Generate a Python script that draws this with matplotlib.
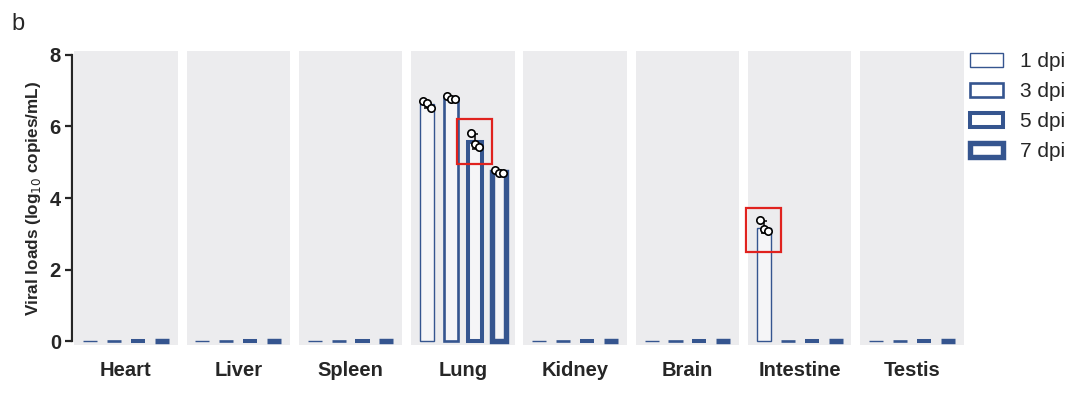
import matplotlib
matplotlib.use("Agg")
import matplotlib.pyplot as plt
from matplotlib.patches import Patch, Rectangle
import numpy as np

plt.rcParams['font.family'] = ['Liberation Sans', 'DejaVu Sans']

# ---- data ----
organs = ["Heart", "Liver", "Spleen", "Lung", "Kidney", "Brain", "Intestine", "Testis"]
series = ["1 dpi", "3 dpi", "5 dpi", "7 dpi"]
# mean viral loads (log10 copies/mL); 0 = not detected
dpi1 = [0, 0, 0, 6.63, 0, 0, 3.17, 0]
dpi3 = [0, 0, 0, 6.80, 0, 0, 0, 0]
dpi5 = [0, 0, 0, 5.58, 0, 0, 0, 0]
dpi7 = [0, 0, 0, 4.73, 0, 0, 0, 0]
# individual replicate points
lung_1dpi_pts = [6.71, 6.65, 6.52]
lung_3dpi_pts = [6.84, 6.78, 6.77]
lung_5dpi_pts = [5.82, 5.51, 5.43]
lung_7dpi_pts = [4.78, 4.71, 4.71]
intestine_1dpi_pts = [3.38, 3.12, 3.07]
points = [
    ("Lung", 0, lung_1dpi_pts),
    ("Lung", 1, lung_3dpi_pts),
    ("Lung", 2, lung_5dpi_pts),
    ("Lung", 3, lung_7dpi_pts),
    ("Intestine", 0, intestine_1dpi_pts),
]
highlights = [("Lung", 2, 4.95, 6.21), ("Intestine", 0, 2.49, 3.72)]
yticks = [0, 2, 4, 6, 8]

# ---- style ----
edge = '#35558f'
lws = [1.0, 1.9, 2.9, 3.9]
bar_w = 0.125
pitch = 0.213
offsets = [(-1.5 + k) * pitch for k in range(4)]
jit = [-0.035, 0.0, 0.035]
txt = '#262626'

fig = plt.figure(figsize=(10.8, 4.0), dpi=100)
ax = fig.add_axes([72 / 1080, 0.1385, 894 / 1080, 0.733])
x = np.arange(len(organs))

for i in x:
    ax.axvspan(i - 0.46, i + 0.46, ymin=0, ymax=1, color='#ececee', lw=0, zorder=0)

vals = [dpi1, dpi3, dpi5, dpi7]
for k, v in enumerate(vals):
    ax.bar(x + offsets[k], v, width=bar_w, facecolor='#f5f5f7', edgecolor=edge,
           linewidth=lws[k], zorder=2, clip_on=False, label=series[k])

for org, k, pts in points:
    i = organs.index(org)
    cx = i + offsets[k]
    m = np.mean(pts)
    sd = np.std(pts, ddof=1)
    ax.errorbar(cx, m, yerr=sd, color='black', lw=1.1, capsize=2.5, capthick=1.1, zorder=3)
    ax.scatter([cx + j for j in jit], pts, s=28, facecolor='white', edgecolor='black',
               linewidth=1.2, zorder=4)

for org, k, y0, y1 in highlights:
    i = organs.index(org)
    cx = i + offsets[k]
    ax.add_patch(Rectangle((cx - 0.155, y0), 0.31, y1 - y0, fill=False, edgecolor='#e0221e',
                           linewidth=1.6, zorder=5))

ax.set_xlim(-0.48, len(organs) - 1 + 0.48)
ax.set_ylim(-0.1, 8.1)
ax.set_yticks(yticks)
ax.set_yticklabels([str(t) for t in yticks], fontweight='bold', fontsize=14.5, color=txt)
ax.set_xticks(x)
ax.set_xticklabels(organs, fontweight='bold', fontsize=14.5, color=txt)
ax.tick_params(axis='x', length=0, pad=12)
ax.tick_params(axis='y', length=5, width=1.6, pad=3, color=txt)
for s in ['top', 'right', 'bottom']:
    ax.spines[s].set_visible(False)
ax.spines['left'].set_bounds(0, 8)
ax.spines['left'].set_linewidth(1.6)
ax.spines['left'].set_color(txt)
ax.set_ylabel('Viral loads (log$_{10}$ copies/mL)', fontweight='bold', fontsize=12.3,
              color=txt, labelpad=5)

handles = [Patch(facecolor='white', edgecolor=edge, linewidth=lws[k], label=series[k])
           for k in range(4)]
fig.legend(handles=handles, loc='upper left', bbox_to_anchor=(0.8905, 0.89), frameon=False,
           fontsize=15, handlelength=1.6, handleheight=0.67, labelspacing=0.53,
           handletextpad=0.8, borderaxespad=0, labelcolor=txt)

fig.text(0.011, 0.925, 'b', fontsize=17, color=txt)

fig.savefig('out.png', dpi=100, facecolor='white')
